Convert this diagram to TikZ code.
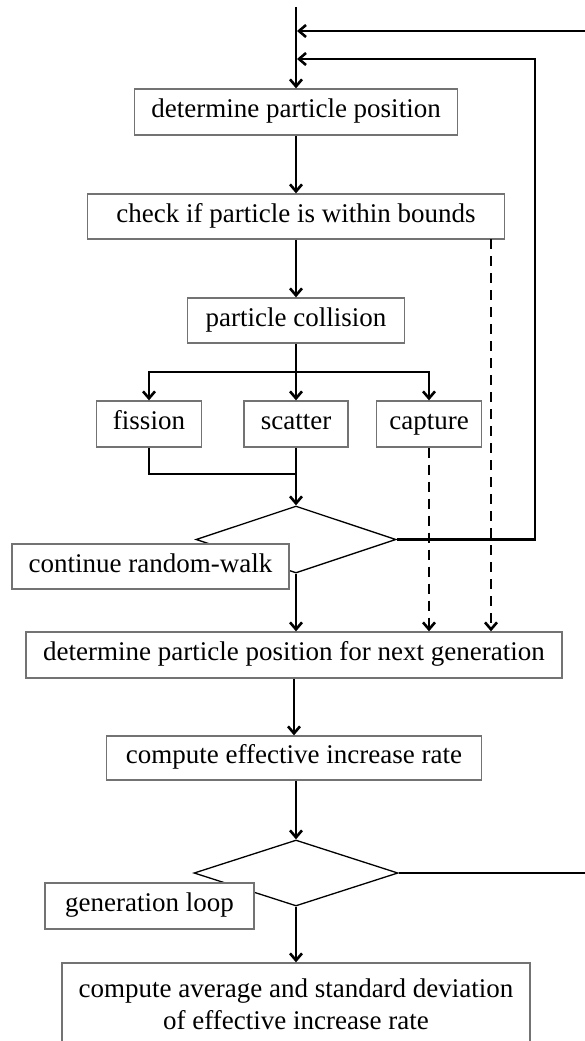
\documentclass[tikz,border=0pt]{standalone}
\usepackage{fontspec}
\setmainfont{Liberation Serif}
\usepackage{tikz}
\usetikzlibrary{positioning,shapes.geometric,arrows.meta}

\begin{document}
\begin{tikzpicture}[x=1pt,y=-1pt,line width=2.6pt,
    >={Straight Barb[length=7pt,width=12pt]},
    box/.style={draw=black!55,line width=1.3pt,fill=white,inner sep=0pt,
      align=center,font=\fontsize{27}{32}\selectfont},
    onebox/.style={box,text height=18pt,text depth=7pt},
    cond/.style={draw,diamond,line width=1.3pt,inner sep=0pt,fill=white},
    dashline/.style={dashed,dash pattern=on 10pt off 7pt}]
            \clip (0,0) rectangle (585,1041);
            \node[onebox,minimum width=323pt,minimum height=46pt] (dpos) at (296,112) {determine particle position};
            \node[onebox,minimum width=417pt,minimum height=45pt] (chk) at (296,216.5) {check if particle is within bounds};
            \node[onebox,minimum width=217pt,minimum height=45pt] (coll) at (296,320.5) {particle collision};
            \node[onebox,minimum width=105pt,minimum height=46pt] (fis) at (149,424) {fission};
            \node[onebox,minimum width=104pt,minimum height=46pt] (sca) at (296,424) {scatter};
            \node[onebox,minimum width=105pt,minimum height=46pt] (cap) at (429,424) {capture};
            \node[cond,minimum width=200pt,minimum height=67pt] (walkdia) at (296,539.5) {};
            \node[onebox,minimum width=277pt,minimum height=45pt] (walk) at (150.5,566.5) {continue random-walk};
            \node[onebox,minimum width=536pt,minimum height=46pt] (nxt) at (294,655) {determine particle position for next generation};
            \node[onebox,minimum width=375pt,minimum height=44pt] (rate) at (294,758) {compute effective increase rate};
            \node[cond,minimum width=204pt,minimum height=66pt] (loopdia) at (296,873) {};
            \node[onebox,minimum width=209pt,minimum height=46pt] (loop) at (149.5,906) {generation loop};
            \node[box,minimum width=468pt,minimum height=82pt] (avg) at (296,1004) {compute average and standard deviation\\of effective increase rate};
            \coordinate (top) at (296,7);
            \coordinate (in1) at (297,31);
            \coordinate (edge1) at (585,31);
            \coordinate (in2) at (297,59);
            \coordinate (back) at (535,59);
            \coordinate (split) at (296,372);
            \coordinate (merge) at (296,474);
            \coordinate (out) at (491,239);
            \coordinate (edge2) at (585,873);
            \draw[->] (top) -- (dpos);
            \draw[->] (edge1) -- (in1);
            \draw[->] (walkdia.east) -| (back) -- (in2);
            \draw[->] (dpos) -- (chk);
            \draw[->] (chk) -- (coll);
            \draw (coll) -- (split);
            \foreach \n in {fis,sca,cap}
              {
                \draw[->] (split) -| (\n);
              }
            \draw (fis) |- (merge);
            \draw (sca) -- (merge);
            \draw[->] (merge) -- (walkdia);
            \draw[->] (walkdia.south) -- (walkdia.south |- nxt.north);
            \foreach \s in {cap,out}
              {
                \draw[->,dashline] (\s) -- (\s |- nxt.north);
              }
            \draw[->] (nxt.south -| rate.north) -- (rate);
            \draw[->] (rate.south -| loopdia.north) -- (loopdia);
            \draw (loopdia.east) -- (edge2);
            \draw[->] (loopdia.south) -- (loopdia.south |- avg.north);
          \end{tikzpicture}
\end{document}
